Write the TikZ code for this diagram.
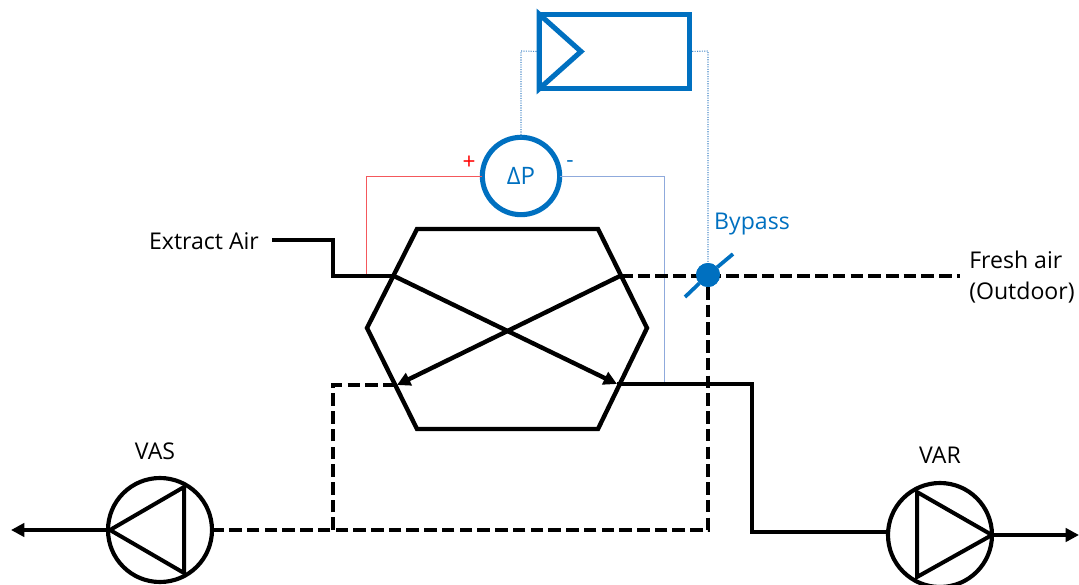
\documentclass[tikz,border=0pt]{standalone}
\usepackage{fontspec}
\setmainfont{Open Sans}
\usetikzlibrary{arrows.meta}
\definecolor{ctrlblue}{HTML}{0070C0}
\definecolor{lightblue}{HTML}{8FAADC}
\definecolor{lightred}{HTML}{F4585C}
\definecolor{dotblue}{HTML}{4A8AC8}
\tikzset{
  x=0.75pt,y=-0.75pt,
  duct/.style={draw=black,line width=3.3pt,line join=miter},
  dashduct/.style={duct,dash pattern=on 9.4pt off 3.9pt},
  flow/.style={duct,-{Triangle[length=10pt,width=10pt]}},
  fan/.style={circle,draw=black,line width=3.1pt,minimum size=78pt,inner sep=0pt,outer sep=0pt},
  ctrl/.style={draw=ctrlblue,line width=3.8pt},
  sensor/.style={circle,draw=ctrlblue,line width=3.8pt,minimum size=58pt,inner sep=0pt,outer sep=0pt,text=ctrlblue,font=\fontsize{18}{21}\selectfont},
  signal/.style={draw=dotblue,line width=0.8pt,densely dotted},
  lab/.style={font=\fontsize{17.3}{23.3}\selectfont,text=black,inner sep=0pt},
  bluelab/.style={lab,text=ctrlblue},
}
\begin{document}
\begin{tikzpicture}
\useasboundingbox (0,0) rectangle (1079,585);
% hexagon corners
\coordinate (h1) at (417,229);
\coordinate (h2) at (598,229);
\coordinate (h3) at (647,328);
\coordinate (h4) at (598,429);
\coordinate (h5) at (417,429);
\coordinate (h6) at (367,328);
% ports
\coordinate (inUL) at (394,276);
\coordinate (inUR) at (620,276);
\coordinate (outLL) at (397,385);
\coordinate (outLR) at (617,384);
\coordinate (extractStart) at (272,240);
\coordinate (e1) at (333,240);
\coordinate (e2) at (333,276);
\coordinate (freshEnd) at (960,276);
\coordinate (r1) at (752,384);
\coordinate (r2) at (752,532);
\coordinate (s1) at (708,530);
\coordinate (s2) at (333,530);
\coordinate (s3) at (333,385);
\coordinate (leftEnd) at (11,530);
\coordinate (rightEnd) at (1079,535);
\coordinate (redDown) at (366.5,276);
\coordinate (blueDown) at (664,384);
\coordinate (d1) at (685,297);
\coordinate (d2) at (733,254);
% text
\node[lab] (extract) at (204,241) {Extract Air};
\node[lab] (vaslab) at (155,451) {VAS};
\node[lab] (varlab) at (940,455) {VAR};
\node[bluelab] (bypass) at (752,224) {Bypass};
\node[lab,anchor=west,align=left] (fresh) at (969,277.5) {Fresh air\\(Outdoor)};
\node[inner sep=0pt,text=red,font=\fontsize{17}{20}\selectfont] (plus) at (469,163) {+};
\node[inner sep=0pt,text=ctrlblue,font=\fontsize{17}{20}\selectfont] (minus) at (570,164) {-};
% fans
\node[fan] (fan1) at (160,530) {};
\node[fan] (fan2) at (940,535) {};
% thin signal lines
\node[sensor] (dp) at (521,176) {ΔP};
\node[draw=none,minimum width=113pt,minimum height=56pt,inner sep=0pt,outer sep=0pt] (ctl) at (614.5,51.5) {};
\node[circle,fill=ctrlblue,minimum size=18pt,inner sep=0pt,outer sep=0pt] (damper) at (708,275) {};
\draw[signal] (dp.north) -- (521,51) -- (ctl.west);
\draw[signal] (ctl.east) -- (708,51) -- (damper.north);
\draw[draw=lightred,line width=0.75pt] (dp.west) -| (redDown);
\draw[draw=lightblue,line width=0.75pt] (dp.east) -| (blueDown);
% controller
\draw[ctrl] (ctl.south west) rectangle (ctl.north east);
\draw[ctrl,line join=miter] (ctl.north west) -- (581,51.5) -- (ctl.south west) -- cycle;
% ducts
\draw[dashduct] (inUR) -- (freshEnd);
\draw[dashduct] (damper.south) -- (s1) -- (fan1.east |- s1);
\draw[dashduct] (s2) -- (s3) -- (outLL);
\draw[duct] (extractStart) -- (e1) -- (e2) -- (inUL);
\draw[duct] (h1) -- (h2) -- (h3) -- (h4) -- (h5) -- (h6) -- cycle;
\draw[flow] (inUL) -- (outLR);
\draw[flow] (inUR) -- (outLL);
\draw[duct] (outLR) -- (r1) -- (r2) -- (fan2.west |- r2);
\draw[flow] (fan1.west) -- (leftEnd);
\draw[flow] (fan2.east) -- (rightEnd);
\draw[duct,line width=3pt] (110,530) -- (184,487) -- (184,573) -- cycle;
\draw[duct,line width=3pt] (917,492) -- (992,535) -- (917,577) -- cycle;
% damper blade
\draw[draw=ctrlblue,line width=2.8pt] (d1) -- (damper) -- (d2);
\node[circle,fill=ctrlblue,minimum size=18pt,inner sep=0pt,outer sep=0pt] (damperTop) at (damper) {};
\end{tikzpicture}
\end{document}
